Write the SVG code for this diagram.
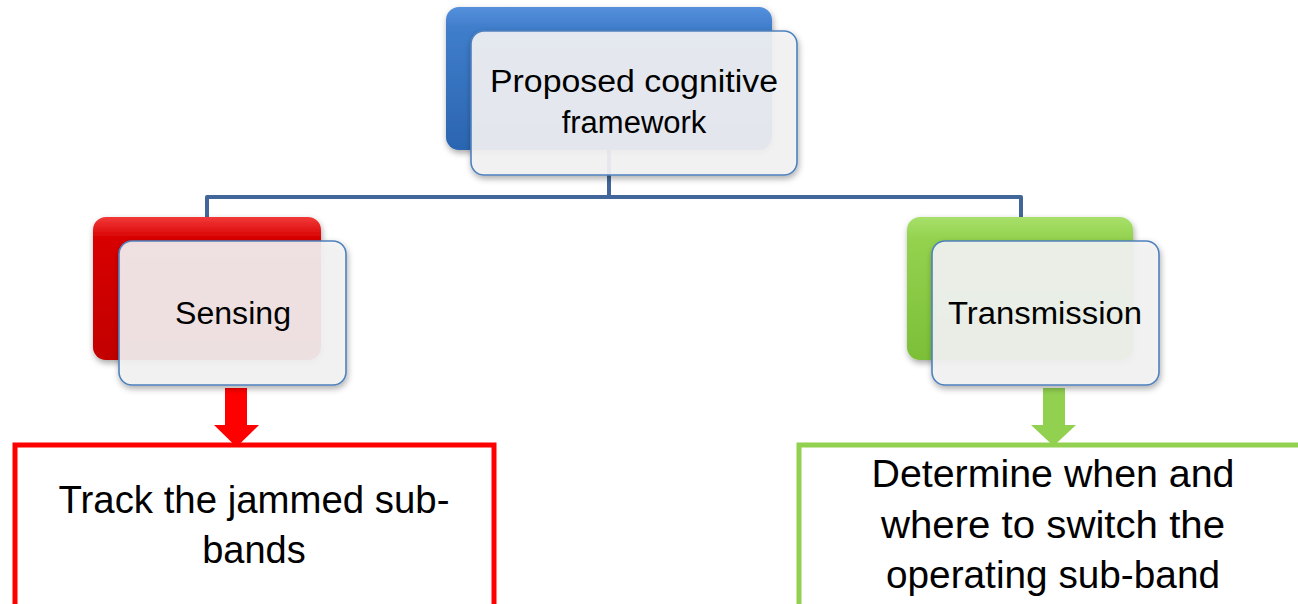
<svg xmlns="http://www.w3.org/2000/svg" width="1298" height="604" viewBox="0 0 1298 604">
  <defs>
    <linearGradient id="gBlue" x1="0" y1="0" x2="0" y2="1">
      <stop offset="0" stop-color="#5590dc"/>
      <stop offset="0.15" stop-color="#3f7dcb"/>
      <stop offset="1" stop-color="#2b65b0"/>
    </linearGradient>
    <linearGradient id="gRed" x1="0" y1="0" x2="0" y2="1">
      <stop offset="0" stop-color="#f23a3a"/>
      <stop offset="0.15" stop-color="#d80000"/>
      <stop offset="1" stop-color="#c20000"/>
    </linearGradient>
    <linearGradient id="gGreen" x1="0" y1="0" x2="0" y2="1">
      <stop offset="0" stop-color="#a8e06a"/>
      <stop offset="0.15" stop-color="#94d24f"/>
      <stop offset="1" stop-color="#7cbf38"/>
    </linearGradient>
    <filter id="shadow" x="-10%" y="-10%" width="125%" height="130%">
      <feDropShadow dx="1" dy="3" stdDeviation="3" flood-color="#000" flood-opacity="0.35"/>
    </filter>
    <style>
      .back { stroke: none; filter: url(#shadow); }
      .front { fill: #f4f4f5; fill-opacity: 0.9; stroke: #4f81bd; stroke-width: 1.6; filter: url(#shadow); }
      .label { font-family: "Liberation Sans", Arial, sans-serif; fill: #000; text-anchor: middle; }
      .conn { fill: none; stroke: #41679a; stroke-width: 4; stroke-linejoin: round; }
    </style>
  </defs>

  <rect width="1298" height="604" fill="#ffffff"/>

  <!-- clipped title glyph at the top edge -->
  <text x="316" y="-11" font-family="Liberation Sans, Arial, sans-serif" font-weight="bold" font-size="46" fill="#000">g</text>

  <!-- tree connectors -->
  <g id="connectors">
    <path class="conn" d="M609 150 V197"/>
    <path class="conn" d="M207 217 V197 H1021 V217"/>
    <!-- block arrows to the detail boxes -->
    <path d="M225 388 H247 V425 H259 L236.5 447 L214 425 H225 Z" fill="#ff0000"/>
    <path d="M1043 388 H1065 V425 H1076 L1053.5 446 L1031 425 H1043 Z" fill="#92d050"/>
  </g>

  <!-- root node -->
  <g id="node-framework">
    <rect class="back" x="446" y="7" width="326" height="143" rx="13" fill="url(#gBlue)"/>
    <rect class="front" x="471" y="31" width="326" height="144" rx="13"/>
    <text class="label" x="634" y="92" font-size="31" textLength="288" lengthAdjust="spacingAndGlyphs">Proposed cognitive</text>
    <text class="label" x="634" y="133" font-size="31">framework</text>
  </g>

  <!-- sensing branch -->
  <g id="node-sensing">
    <rect class="back" x="93" y="217" width="228" height="143" rx="13" fill="url(#gRed)"/>
    <rect class="front" x="119" y="241" width="227" height="144" rx="13"/>
    <text class="label" x="233" y="324" font-size="31" textLength="116" lengthAdjust="spacingAndGlyphs">Sensing</text>
  </g>

  <!-- transmission branch -->
  <g id="node-transmission">
    <rect class="back" x="907" y="217" width="226" height="143" rx="13" fill="url(#gGreen)"/>
    <rect class="front" x="932" y="241" width="227" height="144" rx="13"/>
    <text class="label" x="1045" y="324" font-size="31" textLength="194" lengthAdjust="spacingAndGlyphs">Transmission</text>
  </g>

  <!-- sensing detail -->
  <g id="node-track">
    <rect x="15" y="445" width="479" height="170" fill="#ffffff" stroke="#ff0000" stroke-width="5"/>
    <text class="label" x="254" y="513" font-size="38" textLength="391" lengthAdjust="spacingAndGlyphs">Track the jammed sub-</text>
    <text class="label" x="254" y="563" font-size="38">bands</text>
  </g>

  <!-- transmission detail -->
  <g id="node-switch">
    <rect x="799" y="445" width="520" height="170" fill="#ffffff" stroke="#92d050" stroke-width="5"/>
    <text class="label" x="1053" y="487" font-size="38" textLength="363" lengthAdjust="spacingAndGlyphs">Determine when and</text>
    <text class="label" x="1053" y="538" font-size="38" textLength="344" lengthAdjust="spacingAndGlyphs">where to switch the</text>
    <text class="label" x="1053" y="588" font-size="38" textLength="334" lengthAdjust="spacingAndGlyphs">operating sub-band</text>
  </g>
</svg>
